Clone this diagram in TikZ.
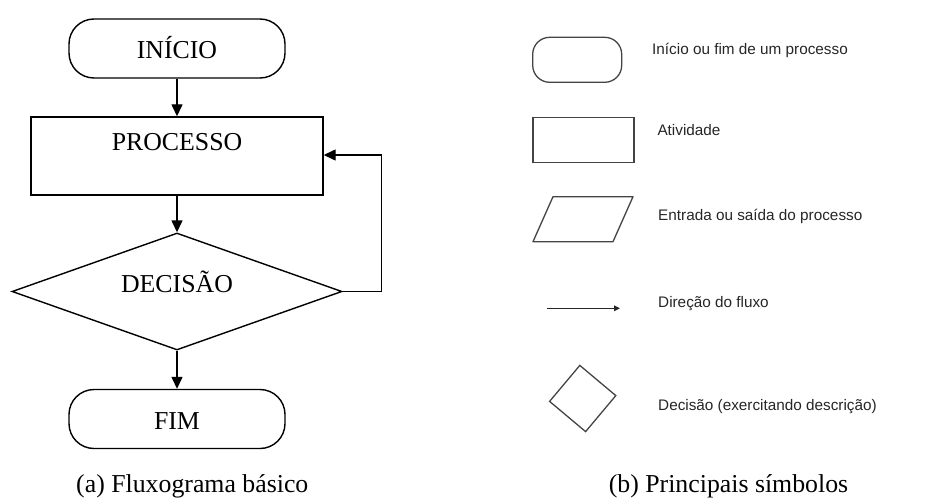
\documentclass[tikz,border=0pt]{standalone}
\usepackage{fontspec}
\setmainfont{Liberation Serif}
\newfontfamily\legendfont{Liberation Sans}
\usetikzlibrary{shapes.geometric,arrows.meta}
\definecolor{symgray}{HTML}{444444}
\definecolor{txtgray}{HTML}{262626}
\tikzset{
  flowline/.style={line width=1.4pt, draw=black},
  flowarrow/.style={flowline, -{Triangle[length=12pt,width=11pt]}},
  termbox/.style={flowline, rectangle, rounded corners=25pt, minimum width=216pt, minimum height=59pt, inner sep=0pt},
  procbox/.style={flowline, rectangle, minimum width=292pt, minimum height=78pt, inner sep=0pt},
  decbox/.style={flowline, diamond, minimum width=330pt, minimum height=117pt, inner sep=0pt},
  bigtext/.style={font=\fontsize{25.8}{30}\selectfont, anchor=base, inner sep=0pt},
  captext/.style={font=\fontsize{25.8}{30}\selectfont, anchor=base, inner sep=0pt},
  symline/.style={line width=1.3pt, draw=symgray},
  legtext/.style={font=\legendfont\fontsize{15.3}{18}\selectfont, text=txtgray, anchor=west, inner sep=0pt},
}
\begin{document}
\begin{tikzpicture}[x=1pt,y=-1pt]
\useasboundingbox (0,0) rectangle (936,500);
% ---- (a) flowchart ----
\node[termbox] (ini) at (177,48.5) {};
\node[bigtext] (initxt) at (177,58.3) {INÍCIO};
\node[procbox] (proc) at (177,156) {};
\node[bigtext] (proctxt) at (177,150) {PROCESSO};
\node[decbox] (dec) at (177,291.5) {};
\node[bigtext] (dectxt) at (177,292) {DECISÃO};
\node[termbox] (fim) at (177,419) {};
\node[bigtext] (fimtxt) at (177,429.3) {FIM};
\coordinate (loopcorner) at (381.7,291.5);
\coordinate (looptop) at (381.7,155);
\draw[flowarrow] (ini.south) -- (proc.north);
\draw[flowarrow] (proc.south) -- (dec.north);
\draw[flowarrow] (dec.south) -- (fim.north);
\draw[flowarrow] (dec.east) -- (loopcorner) -- (looptop) -- (proc.east |- looptop);
\node[captext] (capa) at (192.3,492.3) {(a) Fluxograma básico};
% ---- (b) symbols ----
\node[symline, rectangle, rounded corners=17pt, minimum width=89pt, minimum height=45pt, inner sep=0pt] (s1) at (577.2,59.8) {};
\node[legtext] (t1) at (652,50.5) {Início ou fim de um processo};
\node[symline, rectangle, minimum width=101pt, minimum height=45pt, inner sep=0pt] (s2) at (583.4,139.8) {};
\node[legtext] (t2) at (657.3,130) {Atividade};
\draw[symline, line join=round] (553,196.7) -- (633,196.7) -- (613,241.7) -- (533,241.7) -- cycle;
\node[legtext] (t3) at (658,216.7) {Entrada ou saída do processo};
\coordinate (a1) at (546.7,308.3);
\coordinate (a2) at (620,308.3);
\draw[symline, line width=1.6pt, draw=black!85, -{Triangle[length=6pt,width=5.5pt]}] (a1) -- (a2);
\node[legtext] (t4) at (658,303.3) {Direção do fluxo};
\node[symline, diamond, aspect=1, minimum width=67pt, minimum height=67pt, inner sep=0pt, rotate=5] (s5) at (582.7,398.5) {};
\node[legtext] (t5) at (658,406.7) {Decisão (exercitando descrição)};
\node[captext] (capb) at (728.5,492) {(b) Principais símbolos};
\end{tikzpicture}
\end{document}
